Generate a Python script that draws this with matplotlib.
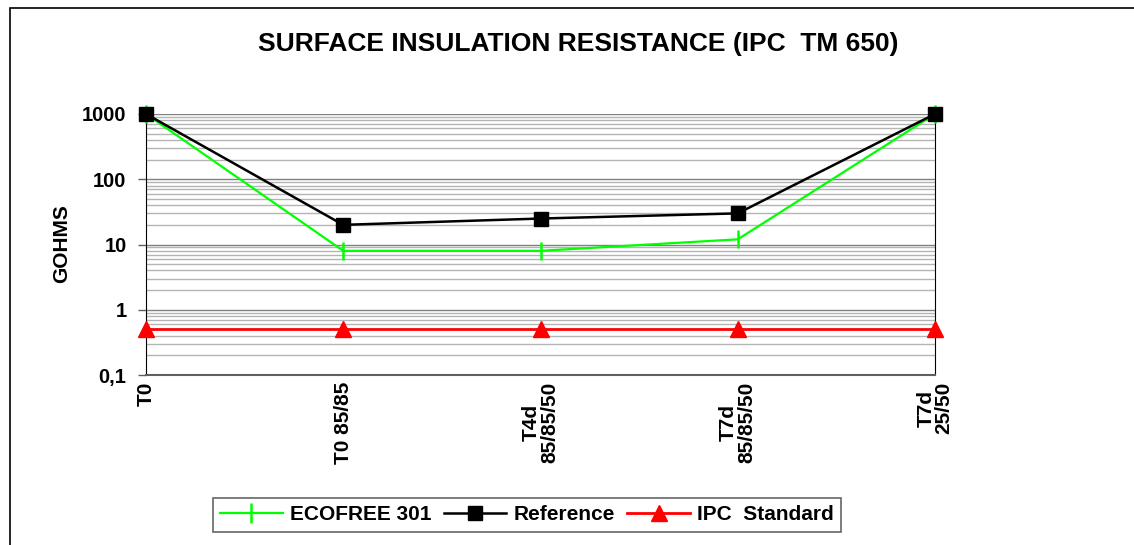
import matplotlib
matplotlib.use("Agg")
import matplotlib.pyplot as plt
from matplotlib.lines import Line2D
from matplotlib.patches import Rectangle
from matplotlib.ticker import FixedLocator, LogLocator, NullFormatter

plt.rcParams["font.family"] = ["Liberation Sans", "DejaVu Sans"]
plt.rcParams["font.weight"] = "bold"

categories = ["T0", "T0 85/85", "T4d\n85/85/50", "T7d\n85/85/50", "T7d\n25/50"]
ecofree = [1000, 8, 8, 12, 1000]
reference = [1000, 20, 25, 30, 1000]
ipc_standard = [0.5, 0.5, 0.5, 0.5, 0.5]
y_ticks = [0.1, 1, 10, 100, 1000]
y_ticklabels = ["0,1", "1", "10", "100", "1000"]

W, H = 1134, 545
fig = plt.figure(figsize=(W / 100, H / 100), dpi=100)
fig.patch.set_facecolor("white")
ax = fig.add_axes([146 / W, 1 - 375 / H, (935 - 146) / W, (375 - 114) / H])

# outer chart frame (runs off the right/bottom edge like the original)
fig.patches.append(Rectangle((10 / W, -0.1), 1.2, 1 - 8 / H + 0.1, transform=fig.transFigure,
                             fill=False, edgecolor="black", linewidth=1.2))

xs = range(len(categories))
ax.plot(xs, ecofree, color="#00ff00", linewidth=1.6, marker="|", markersize=13,
        markeredgewidth=1.8, zorder=3, clip_on=False)
ax.plot(xs, reference, color="black", linewidth=1.8, marker="s", markersize=10,
        zorder=4, clip_on=False)
ax.plot(xs, ipc_standard, color="#ff0000", linewidth=2.0, marker="^", markersize=11,
        zorder=3, clip_on=False)

ax.set_yscale("log")
ax.set_ylim(0.1, 1000)
ax.set_xlim(0, len(categories) - 1)
ax.yaxis.set_major_locator(FixedLocator(y_ticks))
ax.set_yticklabels(y_ticklabels, fontsize=14.5, fontweight="bold")
ax.yaxis.set_minor_locator(LogLocator(base=10, subs=range(2, 10)))
ax.yaxis.set_minor_formatter(NullFormatter())
ax.grid(axis="y", which="minor", color="#b4b4b4", linewidth=1.0, zorder=0)
ax.grid(axis="y", which="major", color="#808080", linewidth=1.0, zorder=0)
ax.tick_params(axis="y", which="major", length=6, width=1, color="#606060", pad=8)
ax.tick_params(axis="y", which="minor", length=0)

ax.set_xticks(list(xs))
ax.set_xticklabels(categories, rotation=90, fontsize=15, fontweight="bold",
                   ha="center", va="top", multialignment="center",
                   linespacing=0.95)
ax.tick_params(axis="x", length=0, pad=5)

ax.spines["left"].set_color("black")
ax.spines["right"].set_color("black")
ax.spines["bottom"].set_color("#606060")
ax.spines["bottom"].set_linewidth(1.5)
ax.spines["top"].set_visible(False)

fig.text(62 / W, 1 - 244 / H, "GOHMS", rotation=90, ha="center", va="center",
         fontsize=15, fontweight="bold")
fig.text(578 / W, 1 - 44 / H, "SURFACE INSULATION RESISTANCE (IPC  TM 650)",
         ha="center", va="center", fontsize=19, fontweight="bold")

handles = [
    Line2D([], [], color="#00ff00", linewidth=1.6, marker="|", markersize=14, markeredgewidth=1.8),
    Line2D([], [], color="black", linewidth=1.8, marker="s", markersize=10),
    Line2D([], [], color="#ff0000", linewidth=2.0, marker="^", markersize=11),
]
leg = fig.legend(handles, ["ECOFREE 301", "Reference", "IPC  Standard"], ncol=3,
                 loc="center", bbox_to_anchor=(527 / W, 1 - 515 / H), frameon=True,
                 fancybox=False, fontsize=15, handlelength=3.0, handletextpad=0.35,
                 columnspacing=0.6, borderpad=0.35, borderaxespad=0)
leg.get_frame().set_edgecolor("#404040")
leg.get_frame().set_linewidth(1.2)

fig.savefig("out.png", dpi=100, facecolor="white")
